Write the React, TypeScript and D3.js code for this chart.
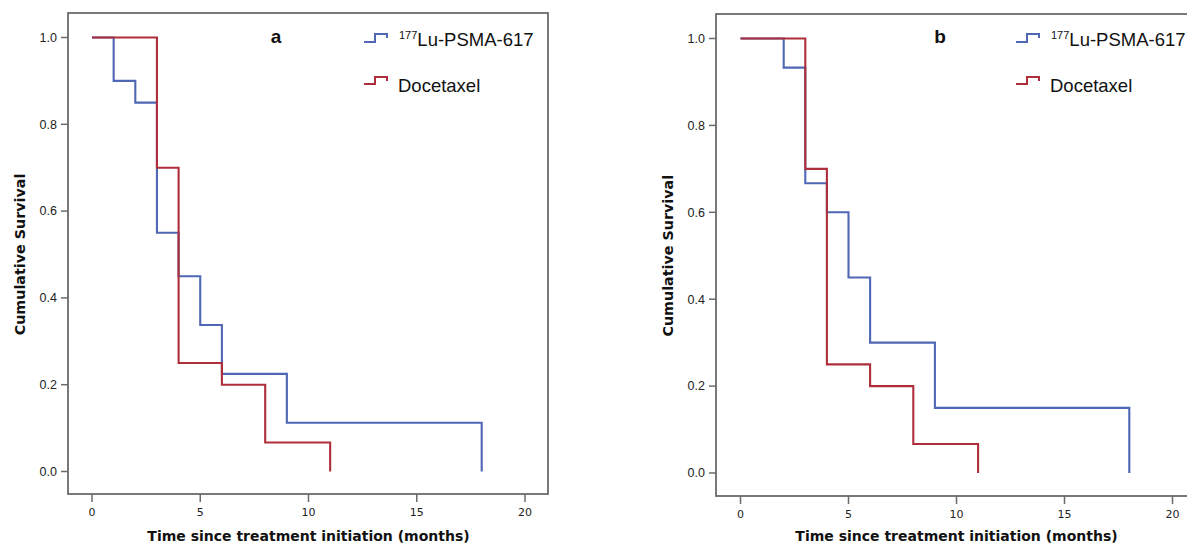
import React from "react";
import * as d3 from "d3";

// ---- Data ----
const xTicks = [0, 5, 10, 15, 20];
const yTicks = [0.0, 0.2, 0.4, 0.6, 0.8, 1.0];

// Panel a: 177Lu-PSMA-617
const luTimesA = [0, 1, 2, 3, 4, 5, 6, 9, 18];
const luSurvA = [1.0, 0.9, 0.85, 0.55, 0.45, 0.3375, 0.225, 0.1125, 0.0];
// Panel b: 177Lu-PSMA-617
const luTimesB = [0, 2, 3, 4, 5, 6, 9, 18];
const luSurvB = [1.0, 0.933, 0.667, 0.6, 0.45, 0.3, 0.15, 0.0];
// Docetaxel (both panels)
const docTimes = [0, 3, 4, 6, 8, 11];
const docSurv = [1.0, 0.7, 0.25, 0.2, 0.0667, 0.0];

const seriesNames = ["Lu-PSMA-617", "Docetaxel"];
const panelLabels = ["a", "b"];

const BLUE = "#4f67b5";
const RED = "#ae2f3b";
const FRAME = "#6b6b6b";

type Panel = {
  label: string;
  luT: number[];
  luS: number[];
  frame: { l: number; r: number; t: number; b: number };
  xr: [number, number];
  yr: [number, number];
  legendX: number;
  labelX: number;
};

const panels: Panel[] = [
  {
    label: panelLabels[0],
    luT: luTimesA,
    luS: luSurvA,
    frame: { l: 68, r: 548, t: 13, b: 494 },
    xr: [92, 525],
    yr: [471.5, 37.5],
    legendX: 364,
    labelX: 276,
  },
  {
    label: panelLabels[1],
    luT: luTimesB,
    luS: luSurvB,
    frame: { l: 716, r: 1197, t: 14, b: 496 },
    xr: [740.5, 1172.5],
    yr: [473, 38.5],
    legendX: 1016,
    labelX: 940,
  },
];

function KMPanel({ p }: { p: Panel }) {
  const x = d3.scaleLinear().domain([0, 20]).range(p.xr);
  const y = d3.scaleLinear().domain([0, 1]).range(p.yr);
  const line = d3
    .line<[number, number]>()
    .x((d) => x(d[0]))
    .y((d) => y(d[1]))
    .curve(d3.curveStepAfter);
  const luPts = p.luT.map((t, i) => [t, p.luS[i]] as [number, number]);
  const docPts = docTimes.map((t, i) => [t, docSurv[i]] as [number, number]);
  const f = p.frame;
  const icon = (x0: number, low: number, high: number) =>
    `M${x0},${low} H${x0 + 11} V${high} H${x0 + 23} V${high + 4}`;
  const lx = p.legendX;
  return (
    <g>
      {/* plot frame */}
      <rect
        x={f.l}
        y={f.t}
        width={f.r - f.l}
        height={f.b - f.t}
        fill="#fff"
        stroke={FRAME}
        strokeWidth={1.8}
      />
      {/* y ticks */}
      {yTicks.map((v) => (
        <g key={"y" + v}>
          <line x1={f.l - 7} x2={f.l} y1={y(v)} y2={y(v)} stroke={FRAME} strokeWidth={1.5} />
          <text
            x={f.l - 11}
            y={y(v)}
            dy="0.35em"
            textAnchor="end"
            fontFamily="Liberation Sans, Arial, sans-serif"
            fontSize={12.5}
            fill="#222"
          >
            {v.toFixed(1)}
          </text>
        </g>
      ))}
      {/* x ticks */}
      {xTicks.map((v) => (
        <g key={"x" + v}>
          <line x1={x(v)} x2={x(v)} y1={f.b} y2={f.b + 8} stroke={FRAME} strokeWidth={1.5} />
          <text
            x={x(v)}
            y={f.b + 22}
            textAnchor="middle"
            fontFamily="DejaVu Sans, sans-serif"
            fontSize={11}
            fill="#222"
          >
            {v}
          </text>
        </g>
      ))}
      {/* axis titles */}
      <text
        x={x(10)}
        y={541}
        textAnchor="middle"
        fontFamily="DejaVu Sans, sans-serif"
        fontWeight="bold"
        fontSize={14}
        fill="#111"
      >
        Time since treatment initiation (months)
      </text>
      <text
        transform={`translate(${f.l - 43},${(y(0) + y(1)) / 2}) rotate(-90)`}
        textAnchor="middle"
        fontFamily="DejaVu Sans, sans-serif"
        fontWeight="bold"
        fontSize={14.3}
        fill="#111"
      >
        Cumulative Survival
      </text>
      {/* curves */}
      <path d={line(luPts) || ""} fill="none" stroke={BLUE} strokeWidth={2.1} />
      <path d={line(docPts) || ""} fill="none" stroke={RED} strokeWidth={2.1} />
      {/* panel label */}
      <text
        x={p.labelX}
        y={43}
        textAnchor="middle"
        fontFamily="Liberation Sans, Arial, sans-serif"
        fontWeight="bold"
        fontSize={19}
        fill="#111"
      >
        {p.label}
      </text>
      {/* legend */}
      <path d={icon(lx, 42, 34)} fill="none" stroke={BLUE} strokeWidth={2} />
      <text
        x={lx + 35}
        y={46}
        fontFamily="Liberation Sans, Arial, sans-serif"
        fontSize={18.5}
        fill="#111"
      >
        <tspan fontSize={11} dy={-7}>
          177
        </tspan>
        <tspan dy={7}>{seriesNames[0]}</tspan>
      </text>
      <path d={icon(lx, 84, 77)} fill="none" stroke={RED} strokeWidth={2} />
      <text
        x={lx + 34}
        y={91.5}
        fontFamily="Liberation Sans, Arial, sans-serif"
        fontSize={18.5}
        fill="#111"
      >
        {seriesNames[1]}
      </text>
    </g>
  );
}

export default function App() {
  return (
    <svg
      width={1187}
      height={547}
      style={{ position: "absolute", left: 0, top: 0, background: "#fff" }}
    >
      <rect x={0} y={0} width={1187} height={547} fill="#fff" />
      {panels.map((p) => (
        <KMPanel key={p.label} p={p} />
      ))}
    </svg>
  );
}
